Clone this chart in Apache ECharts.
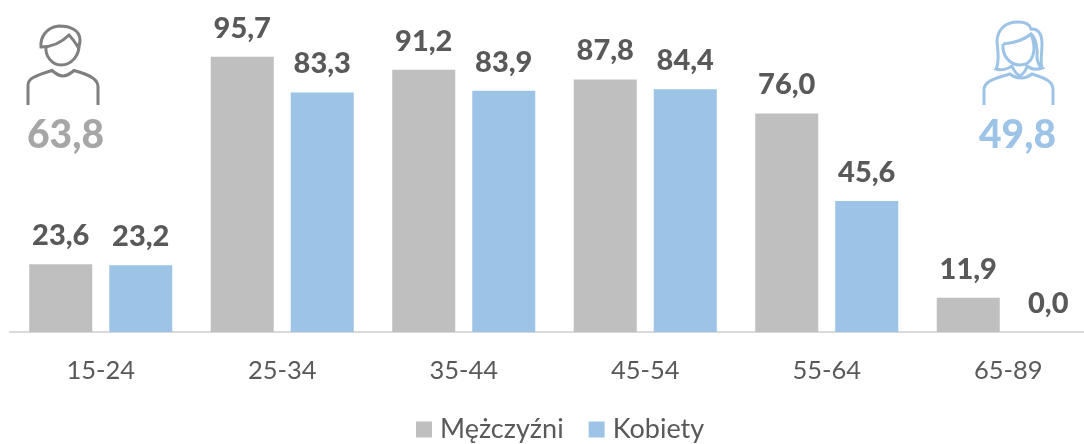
<!DOCTYPE html>
<html><head><meta charset="utf-8">
<style>html,body{margin:0;padding:0;background:#fff}#c{width:1084px;height:444px}</style>
<script src="https://cdn.jsdelivr.net/npm/echarts@6/dist/echarts.min.js"></script>
</head><body><div id="c"></div>
<script>
const categories = ['15-24','25-34','35-44','45-54','55-64','65-89'];
const men = [23.6,95.7,91.2,87.8,76.0,11.9];
const women = [23.2,83.3,83.9,84.4,45.6,0.0];
const seriesNames = ['Mężczyźni','Kobiety'];
const totals = ['63,8','49,8'];
const FONT = 'Lato, "Open Sans", sans-serif';
const chart = echarts.init(document.getElementById('c'), null, {renderer:'canvas'});
const fmt = p => p.value.toFixed(1).replace('.',',');
const lbl = {show:true, position:'top', distance:14, color:'#595959', fontFamily:FONT, fontSize:29, fontWeight:900, formatter:fmt};
const iconPaths = {
  m1:'M28 105 L28 85 C28 79 34 76 52 70.5 C56 74 60 76 63 76 C66 76 70 74 74 70.5 C90 75 98 79 98 87 L98 105',
  m2:'M46 47 C45 56 52 65 61 65 C71 65 80 56 79 43',
  m3:'M41 47 C40 38 46 27 59 26 C70 26 80 30 80 40 C80 44 79 46 78 47 C75 42 72 38 69 35 C62 42 54 47 41 47 Z',
  w1:'M984 105 L984 90 C984 82 992 79 1010 74 C1014 77 1018 78 1021 78 C1024 78 1028 77 1032 74 C1048 79 1053 82 1053 90 L1053 105',
  w2:'M1003 44 C1002 56 1010 65 1020 65 C1032 65 1038 52 1031 34',
  w3:'M1003 44 C1015 43 1024 40 1031 34 C1036 38 1038 50 1037 58 C1038 64 1040 67 1042 68 C1037 70 1031 69 1027 66 C1026 70 1023 74 1020 76 C1016 74 1014 71 1012 66 C1008 69 1001 71 996 69 C999 64 998 50 997 42 C997 30 1005 22 1018 22 C1026 22 1030 25 1031 29 C1038 28 1042 34 1042 44 C1042 54 1040 62 1042 68'
};
Object.keys(iconPaths).forEach(k => echarts.graphic.registerShape(k, echarts.graphic.extendPath(iconPaths[k], {})));
const icon = (k,c) => ({type:k, shape:{}, style:{fill:'none',stroke:c,lineWidth:3}});
chart.setOption({
  animation:false,
  grid:{left:10,width:1089,top:44.5,height:287.5,containLabel:false,outerBoundsMode:'none'},
  legend:{left:416,top:416,itemWidth:16,itemHeight:16,itemGap:25,icon:'rect',padding:0,
    textStyle:{color:'#595959',fontFamily:FONT,fontSize:27,padding:[0,0,0,3]},data:seriesNames},
  xAxis:{type:'category',data:categories,axisTick:{show:false},
    axisLine:{lineStyle:{color:'#D9D9D9',width:2}},
    axisLabel:{color:'#595959',fontFamily:FONT,fontSize:25.5,margin:26}},
  yAxis:{type:'value',min:0,max:100,show:false},
  series:[
   {name:seriesNames[0],type:'bar',data:men,barWidth:63,barGap:'27%',itemStyle:{color:'#BFBFBF'},label:lbl},
   {name:seriesNames[1],type:'bar',data:women,barWidth:63,itemStyle:{color:'#9DC3E6'},label:lbl}
  ],
  graphic:[
   {type:'text',left:27,top:116,style:{text:totals[0],fill:'#A6A6A6',font:'900 39px '+FONT}},
   {type:'text',left:979,top:116,style:{text:totals[1],fill:'#9DC3E6',font:'900 39px '+FONT}},
   icon('m1','#7F7F7F'),icon('m2','#7F7F7F'),icon('m3','#7F7F7F'),
   icon('w1','#9DC3E6'),icon('w2','#9DC3E6'),icon('w3','#9DC3E6')
  ]
});
</script></body></html>
